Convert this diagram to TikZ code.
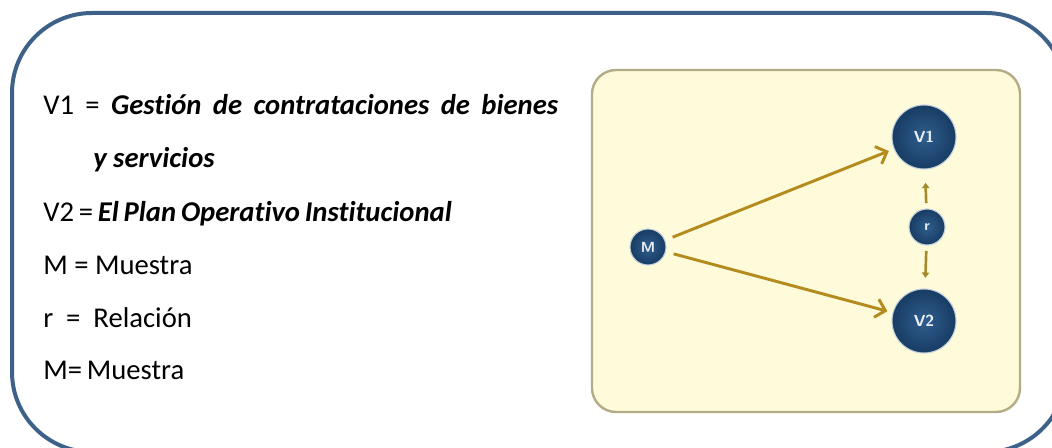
\documentclass[tikz,border=0pt]{standalone}
\usepackage{fontspec}
\setmainfont[Ligatures=NoCommon]{Carlito}
\usetikzlibrary{arrows.meta}
\definecolor{frameblue}{HTML}{3E6189}
\definecolor{panelfill}{HTML}{FEFBDA}
\definecolor{paneledge}{HTML}{B3AC86}
\definecolor{gold}{HTML}{B38B1F}
\definecolor{olive}{HTML}{A48C2C}
\definecolor{navy}{HTML}{183C63}
\definecolor{navylight}{HTML}{2F5E8E}
\begin{document}
\begin{tikzpicture}[x=0.75pt,y=-0.75pt,
  var/.style={circle,inner sep=0pt,draw=white!70!navylight,line width=0.8pt,
    inner color=navylight,outer color=navy,text=white!90!navylight,
    font=\sffamily\bfseries\fontsize{12}{12}\selectfont},
  line/.style={anchor=base west,inner sep=0pt,font=\fontsize{21.5}{24}\selectfont},
  link/.style={line width=2.2pt,-{Straight Barb[length=7pt,width=14pt,line width=2.2pt]}}]
\useasboundingbox (0,0) rectangle (1052,448);
\draw[frameblue,line width=3pt,rounded corners=60pt] (12,13) rectangle (1066,452);
\node[line] (L1) at (43,115) {\makebox[386.25pt][s]{V1 = \textbf{\textit{Gestión de contrataciones de bienes}}}};
\node[line] (L2) at (93,168) {\textbf{\textit{y servicios}}};
\node[line] (L3) at (43,222) {V2\,=\,\textbf{\textit{El\,Plan\,Operativo\,Institucional}}};
\node[line] (L4) at (43,275) {M = Muestra};
\node[line] (L5) at (43,328) {r\ \ =\ \ Relación};
\node[line] (L6) at (43,380) {M=\,Muestra};
\draw[paneledge,line width=1.8pt,fill=panelfill,rounded corners=18pt] (592,70) rectangle (1020,412);
\node[var,minimum size=27pt,font=\sffamily\bfseries\fontsize{11}{11}\selectfont] (M) at (648,247) {M};
\node[var,minimum size=48pt] (V1) at (924,137) {V1};
\node[var,minimum size=48pt] (V2) at (924,321) {V2};
\node[var,minimum size=27pt,font=\sffamily\bfseries\fontsize{11}{11}\selectfont] (r) at (927,227) {r};
\path
  (M) edge [link,gold,shorten <=6pt,shorten >=4pt] (V1)
  (M) edge [link,gold,shorten <=6pt,shorten >=4pt] (V2)
  (r) edge [link,olive,line width=2pt,shorten <=4pt,shorten >=10pt,
    -{Triangle[length=4pt,width=5.5pt]}] (V1)
  (r) edge [link,olive,line width=2pt,shorten <=4pt,shorten >=8pt,
    -{Triangle[length=4pt,width=5.5pt]}] (V2)
;
\end{tikzpicture}
\end{document}
